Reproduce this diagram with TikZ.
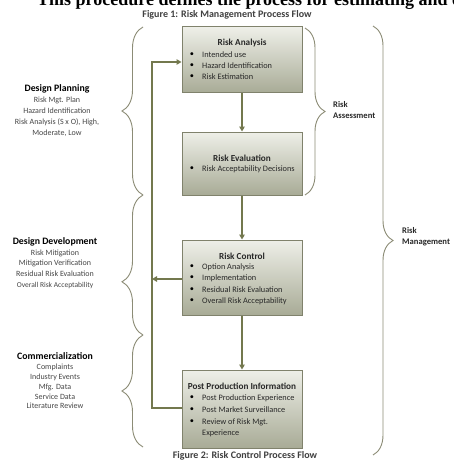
\documentclass[tikz,border=0pt]{standalone}
\usepackage{fontspec}
\setmainfont{Carlito}
\newfontfamily\serifb{Liberation Serif}
\usetikzlibrary{arrows.meta,decorations.pathreplacing}
\definecolor{boxline}{RGB}{128,130,108}
\definecolor{boxtop}{RGB}{238,239,232}
\definecolor{boxbot}{RGB}{168,171,150}
\definecolor{flowc}{RGB}{115,120,78}
\definecolor{bracec}{RGB}{140,140,118}
\definecolor{txt}{RGB}{40,40,40}
\definecolor{sidetxt}{RGB}{70,70,70}
\tikzset{
 procbox/.style={draw=boxline, line width=1pt, top color=boxtop, bottom color=boxbot, minimum width=120pt, inner sep=0pt},
 flow/.style={draw=flowc, line width=1.4pt, -{Triangle[width=5.5pt,length=5pt]}},
 brc/.style={draw=bracec, line width=0.9pt, decorate, decoration={brace, amplitude=#1}},
 brc/.default=20pt,
 boxtitle/.style={font=\fontsize{9.2}{11}\selectfont\bfseries, text=txt, inner sep=0pt, text height=6.5pt, text depth=1.5pt},
 item/.style={font=\fontsize{8.3}{10}\selectfont, text=txt, anchor=west, inner sep=0pt, text height=6pt, text depth=1.5pt},
 bul/.style={font=\fontsize{8.3}{10}\selectfont, text=black, inner sep=0pt},
 side/.style={font=\fontsize{8}{10}\selectfont, text=sidetxt, inner sep=0pt, text height=6pt, text depth=1.5pt},
 sidehead/.style={font=\fontsize{9.8}{12}\selectfont\bfseries, text=black, inner sep=0pt, text height=7pt, text depth=2pt},
 rlabel/.style={font=\fontsize{8.6}{10}\selectfont\bfseries, text=txt, anchor=west, inner sep=0pt, text height=6pt, text depth=1.5pt},
 caption/.style={font=\fontsize{10}{12}\selectfont\bfseries, text=black!75, inner sep=0pt},
}
\begin{document}
\begin{tikzpicture}[x=1pt,y=-1pt]
\useasboundingbox (0,0) rectangle (454,468);
\clip (0,0) rectangle (454,468);
\fill[white] (0,0) rectangle (454,468);
% top cut-off line and captions
\node[anchor=base west, font=\serifb\bfseries\fontsize{18}{20}\selectfont, inner sep=0pt] (topline) at (37,6) {This procedure defines the process for estimating and e};
\node[caption] (cap1) at (227,15) {Figure 1: Risk Management Process Flow};
\node[caption] (cap2) at (245,456) {Figure 2: Risk Control Process Flow};
% boxes
\node[procbox, minimum height=66pt] (box1) at (242,60) {};
\node[procbox, minimum height=63pt] (box2) at (242,163.5) {};
\node[procbox, minimum height=75pt] (box3) at (242,277.5) {};
\node[procbox, minimum height=78pt] (box4) at (242,409) {};
% box 1
\node[boxtitle] (t1) at (242,43) {Risk Analysis};
\node[bul] (b11) at (192,55) {•}; \node[item] (i11) at (202,55) {Intended use};
\node[bul] (b12) at (192,66) {•}; \node[item] (i12) at (202,66) {Hazard Identification};
\node[bul] (b13) at (192,77) {•}; \node[item] (i13) at (202,77) {Risk Estimation};
% box 2
\node[boxtitle] (t2) at (242,159) {Risk Evaluation};
\node[bul] (b21) at (192,169) {•}; \node[item] (i21) at (202,169) {Risk Acceptability Decisions};
% box 3
\node[boxtitle] (t3) at (242,257) {Risk Control};
\node[bul] (b31) at (192,267) {•}; \node[item] (i31) at (202,267) {Option Analysis};
\node[bul] (b32) at (192,278) {•}; \node[item] (i32) at (202,278) {Implementation};
\node[bul] (b33) at (192,290) {•}; \node[item] (i33) at (202,290) {Residual Risk Evaluation};
\node[bul] (b34) at (192,301) {•}; \node[item] (i34) at (202,301) {Overall Risk Acceptability};
% box 4
\node[boxtitle] (t4) at (242,387) {Post Production Information};
\node[bul] (b41) at (192,398) {•}; \node[item] (i41) at (202,398) {Post Production Experience};
\node[bul] (b42) at (192,410) {•}; \node[item] (i42) at (202,410) {Post Market Surveillance};
\node[bul] (b43) at (192,422) {•}; \node[item] (i43) at (202,422) {Review of Risk Mgt.};
\node[item] (i44) at (202,433) {Experience};
% flow arrows
\draw[flow] (box1.south) -- (box2.north);
\draw[flow] (box2.south) -- (box3.north);
\draw[flow] (box3.south) -- (box4.north);
\coordinate (fbB) at (152,408);
\coordinate (fbT) at (152,62);
\coordinate (fbM) at (152,279);
\draw[flow] (box4.west |- fbB) -- (fbB) -- (fbT) -- (box1.west |- fbT);
\draw[flow] (box3.west |- fbM) -- (fbM);
% left braces
\draw[brc=21pt] (143,195) -- (143,27);
\draw[brc=21pt, decoration={aspect=0.38}] (143,335) -- (143,195);
\draw[brc=21pt] (143,447) -- (143,335);
% right braces
\draw[brc=20pt] (305,28) -- (305,195);
\draw[brc=20pt] (373,26) -- (373,455);
% right labels
\node[rlabel] (ra1) at (333,105) {Risk};
\node[rlabel] (ra2) at (333,116) {Assessment};
\node[rlabel] (rm1) at (402,231) {Risk};
\node[rlabel] (rm2) at (402,242) {Management};
% left texts
\node[sidehead] (dp) at (57,89) {Design Planning};
\node[side] (dp1) at (57,100) {Risk Mgt. Plan};
\node[side] (dp2) at (57,111) {Hazard Identification};
\node[side] (dp3) at (57,122) {Risk Analysis (S x O), High,};
\node[side] (dp4) at (57,133) {Moderate, Low};
\node[sidehead] (dd) at (55,242) {Design Development};
\node[side] (dd1) at (55,253) {Risk Mitigation};
\node[side] (dd2) at (55,263.5) {Mitigation Verification};
\node[side] (dd3) at (55,274) {Residual Risk Evaluation};
\node[side, font=\fontsize{7.5}{9}\selectfont] (dd4) at (55,285) {Overall Risk Acceptability};
\node[sidehead] (cm) at (55,357) {Commercialization};
\node[side] (cm1) at (55,367.5) {Complaints};
\node[side] (cm2) at (55,377.5) {Industry Events};
\node[side] (cm3) at (55,387) {Mfg. Data};
\node[side] (cm4) at (55,397) {Service Data};
\node[side] (cm5) at (55,406.5) {Literature Review};
\end{tikzpicture}
\end{document}
